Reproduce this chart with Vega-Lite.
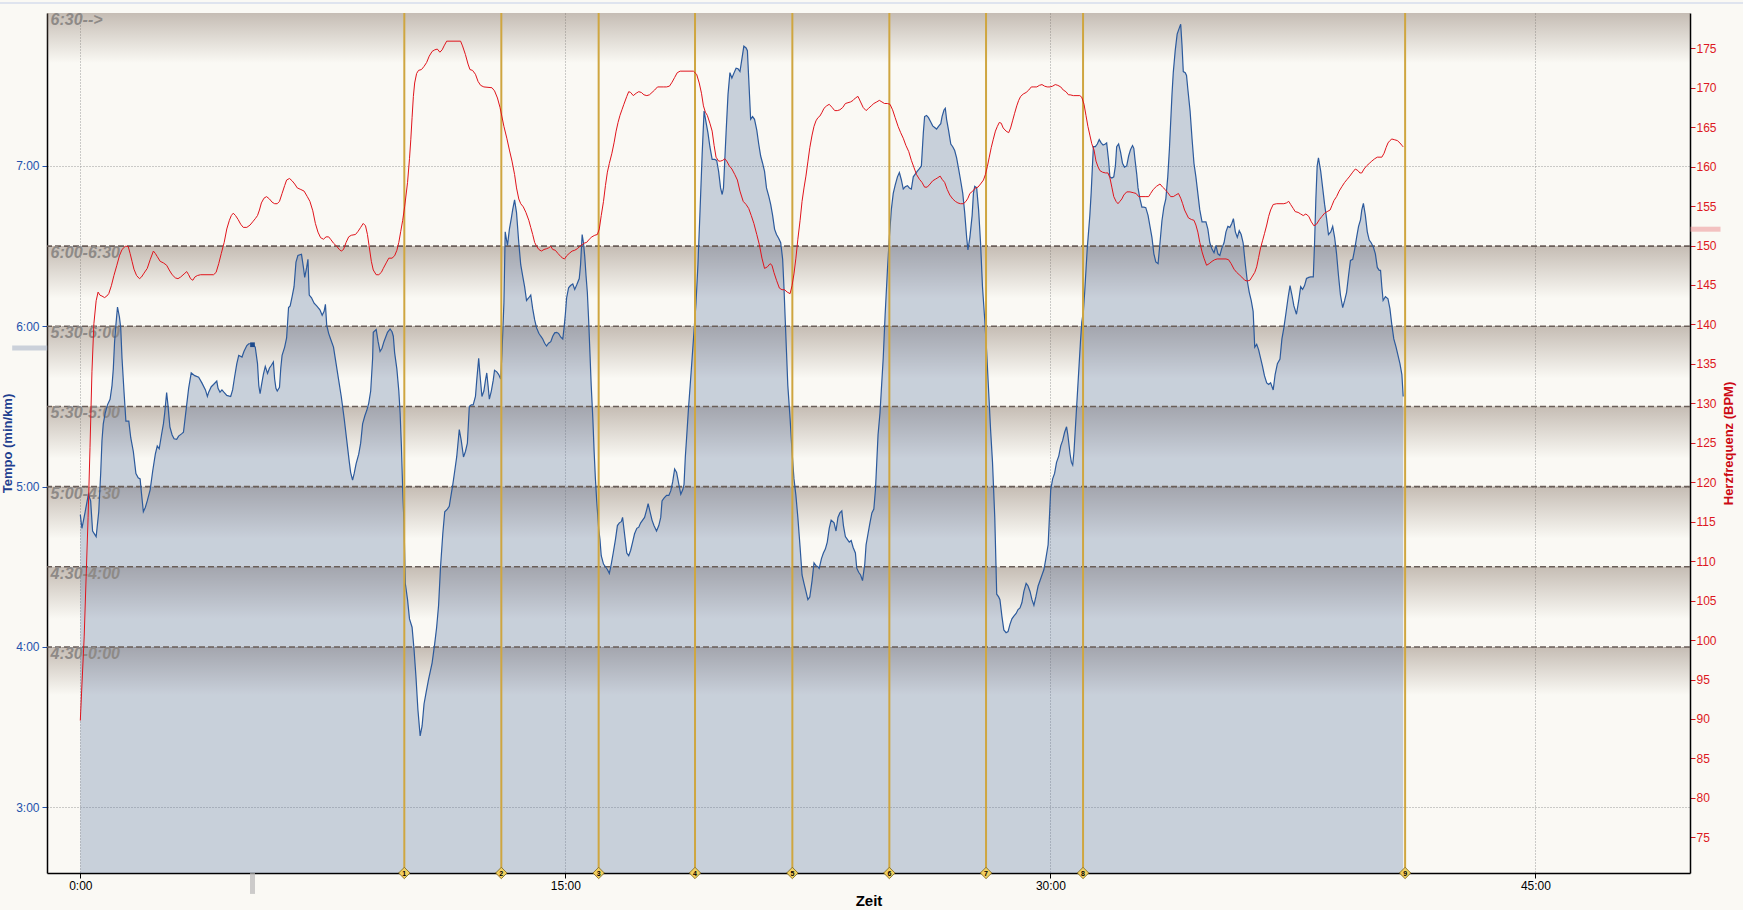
{
  "$schema": "https://vega.github.io/schema/vega-lite/v6.json",
  "width": 1643,
  "height": 860,
  "autosize": "none",
  "padding": {"left": 47, "top": 13, "right": 53, "bottom": 37},
  "background": "#faf9f4",
  "config": {
    "view": {"stroke": null},
    "font": "Liberation Sans",
    "axis": {"labelFont": "Liberation Sans", "titleFont": "Liberation Sans", "labelFontSize": 12, "domainColor": "#000000", "domainWidth": 1.5, "tickSize": 5, "tickWidth": 1, "gridColor": "#9a9a9a", "gridDash": [1, 2], "gridWidth": 1}
  },
  "datasets": {
    "pace": [
      {"t":0.00,"p":4.825},{"t":0.05,"p":4.74},{"t":0.15,"p":4.843},{"t":0.25,"p":4.952},{"t":0.32,"p":4.911},{"t":0.38,"p":4.723},{"t":0.49,"p":4.688},{"t":0.57,"p":4.843},{"t":0.63,"p":5.082},{"t":0.67,"p":5.288},{"t":0.71,"p":5.391},{"t":0.77,"p":5.459},{"t":0.84,"p":5.51},{"t":0.92,"p":5.545},{"t":0.98,"p":5.63},{"t":1.02,"p":5.733},{"t":1.06,"p":5.904},{"t":1.10,"p":6.007},{"t":1.15,"p":6.12},{"t":1.21,"p":6.058},{"t":1.25,"p":5.99},{"t":1.29,"p":5.801},{"t":1.35,"p":5.596},{"t":1.41,"p":5.408},{"t":1.50,"p":5.408},{"t":1.56,"p":5.305},{"t":1.64,"p":5.219},{"t":1.72,"p":5.082},{"t":1.79,"p":5.055},{"t":1.85,"p":5.048},{"t":1.89,"p":4.962},{"t":1.95,"p":4.843},{"t":2.01,"p":4.87},{"t":2.07,"p":4.911},{"t":2.16,"p":4.98},{"t":2.24,"p":5.099},{"t":2.32,"p":5.202},{"t":2.38,"p":5.254},{"t":2.44,"p":5.236},{"t":2.51,"p":5.322},{"t":2.57,"p":5.391},{"t":2.61,"p":5.459},{"t":2.67,"p":5.586},{"t":2.71,"p":5.51},{"t":2.77,"p":5.373},{"t":2.84,"p":5.322},{"t":2.90,"p":5.298},{"t":2.98,"p":5.295},{"t":3.04,"p":5.315},{"t":3.13,"p":5.329},{"t":3.19,"p":5.339},{"t":3.23,"p":5.408},{"t":3.29,"p":5.51},{"t":3.35,"p":5.613},{"t":3.43,"p":5.709},{"t":3.54,"p":5.692},{"t":3.66,"p":5.682},{"t":3.76,"p":5.647},{"t":3.87,"p":5.603},{"t":3.93,"p":5.562},{"t":3.97,"p":5.589},{"t":4.05,"p":5.623},{"t":4.12,"p":5.637},{"t":4.22,"p":5.658},{"t":4.26,"p":5.613},{"t":4.32,"p":5.589},{"t":4.38,"p":5.603},{"t":4.44,"p":5.589},{"t":4.53,"p":5.569},{"t":4.65,"p":5.562},{"t":4.71,"p":5.603},{"t":4.77,"p":5.682},{"t":4.84,"p":5.767},{"t":4.90,"p":5.819},{"t":5.00,"p":5.808},{"t":5.06,"p":5.843},{"t":5.15,"p":5.88},{"t":5.21,"p":5.891},{"t":5.33,"p":5.891},{"t":5.41,"p":5.87},{"t":5.48,"p":5.767},{"t":5.52,"p":5.63},{"t":5.56,"p":5.579},{"t":5.60,"p":5.63},{"t":5.66,"p":5.699},{"t":5.72,"p":5.75},{"t":5.79,"p":5.706},{"t":5.85,"p":5.74},{"t":5.91,"p":5.757},{"t":5.97,"p":5.777},{"t":6.01,"p":5.671},{"t":6.05,"p":5.613},{"t":6.09,"p":5.596},{"t":6.16,"p":5.62},{"t":6.20,"p":5.74},{"t":6.24,"p":5.819},{"t":6.32,"p":5.87},{"t":6.38,"p":5.928},{"t":6.44,"p":6.117},{"t":6.49,"p":6.127},{"t":6.55,"p":6.185},{"t":6.61,"p":6.247},{"t":6.67,"p":6.401},{"t":6.73,"p":6.442},{"t":6.84,"p":6.449},{"t":6.90,"p":6.367},{"t":6.94,"p":6.305},{"t":7.00,"p":6.367},{"t":7.04,"p":6.418},{"t":7.08,"p":6.195},{"t":7.15,"p":6.178},{"t":7.23,"p":6.144},{"t":7.31,"p":6.127},{"t":7.41,"p":6.103},{"t":7.48,"p":6.069},{"t":7.54,"p":6.093},{"t":7.58,"p":6.137},{"t":7.62,"p":6.007},{"t":7.68,"p":5.956},{"t":7.74,"p":5.921},{"t":7.83,"p":5.87},{"t":7.91,"p":5.767},{"t":7.99,"p":5.664},{"t":8.07,"p":5.562},{"t":8.16,"p":5.425},{"t":8.24,"p":5.288},{"t":8.32,"p":5.151},{"t":8.36,"p":5.089},{"t":8.42,"p":5.041},{"t":8.47,"p":5.082},{"t":8.53,"p":5.144},{"t":8.61,"p":5.202},{"t":8.67,"p":5.271},{"t":8.73,"p":5.391},{"t":8.80,"p":5.442},{"t":8.86,"p":5.476},{"t":8.92,"p":5.521},{"t":8.98,"p":5.596},{"t":9.04,"p":5.801},{"t":9.06,"p":5.962},{"t":9.15,"p":5.98},{"t":9.21,"p":5.904},{"t":9.27,"p":5.843},{"t":9.33,"p":5.863},{"t":9.39,"p":5.904},{"t":9.50,"p":5.962},{"t":9.58,"p":5.983},{"t":9.64,"p":5.966},{"t":9.68,"p":5.938},{"t":9.72,"p":5.836},{"t":9.79,"p":5.733},{"t":9.85,"p":5.596},{"t":9.89,"p":5.459},{"t":9.93,"p":5.254},{"t":9.97,"p":4.98},{"t":10.01,"p":4.774},{"t":10.05,"p":4.397},{"t":10.12,"p":4.295},{"t":10.18,"p":4.175},
      {"t":10.26,"p":4.123},{"t":10.32,"p":3.986},{"t":10.38,"p":3.815},{"t":10.44,"p":3.61},{"t":10.51,"p":3.445},{"t":10.57,"p":3.507},{"t":10.63,"p":3.644},{"t":10.69,"p":3.712},{"t":10.77,"p":3.798},{"t":10.88,"p":3.901},{"t":10.96,"p":4.021},{"t":11.02,"p":4.123},{"t":11.08,"p":4.26},{"t":11.14,"p":4.5},{"t":11.21,"p":4.706},{"t":11.27,"p":4.843},{"t":11.35,"p":4.86},{"t":11.41,"p":4.877},{"t":11.45,"p":4.928},{"t":11.52,"p":5.014},{"t":11.58,"p":5.099},{"t":11.64,"p":5.185},{"t":11.72,"p":5.356},{"t":11.78,"p":5.288},{"t":11.85,"p":5.185},{"t":11.91,"p":5.219},{"t":11.97,"p":5.271},{"t":12.03,"p":5.5},{"t":12.09,"p":5.51},{"t":12.15,"p":5.51},{"t":12.22,"p":5.562},{"t":12.26,"p":5.664},{"t":12.32,"p":5.801},{"t":12.36,"p":5.699},{"t":12.42,"p":5.562},{"t":12.48,"p":5.596},{"t":12.53,"p":5.664},{"t":12.57,"p":5.709},{"t":12.61,"p":5.63},{"t":12.65,"p":5.545},{"t":12.71,"p":5.596},{"t":12.77,"p":5.664},{"t":12.81,"p":5.726},{"t":12.88,"p":5.716},{"t":12.94,"p":5.699},{"t":13.00,"p":5.671},{"t":13.04,"p":5.836},{"t":13.10,"p":6.144},{"t":13.14,"p":6.589},{"t":13.21,"p":6.504},{"t":13.27,"p":6.606},{"t":13.33,"p":6.675},{"t":13.37,"p":6.726},{"t":13.43,"p":6.788},{"t":13.49,"p":6.709},{"t":13.56,"p":6.521},{"t":13.62,"p":6.384},{"t":13.68,"p":6.315},{"t":13.74,"p":6.247},{"t":13.80,"p":6.161},{"t":13.87,"p":6.178},{"t":13.93,"p":6.195},{"t":13.99,"p":6.11},{"t":14.05,"p":6.041},{"t":14.11,"p":5.99},{"t":14.18,"p":5.956},{"t":14.24,"p":5.938},{"t":14.30,"p":5.921},{"t":14.36,"p":5.894},{"t":14.42,"p":5.877},{"t":14.48,"p":5.894},{"t":14.55,"p":5.904},{"t":14.61,"p":5.938},{"t":14.67,"p":5.959},{"t":14.73,"p":5.962},{"t":14.79,"p":5.956},{"t":14.86,"p":5.932},{"t":14.92,"p":5.921},{"t":14.96,"p":5.99},{"t":15.00,"p":6.075},{"t":15.04,"p":6.178},{"t":15.10,"p":6.24},{"t":15.16,"p":6.254},{"t":15.23,"p":6.264},{"t":15.29,"p":6.23},{"t":15.35,"p":6.257},{"t":15.43,"p":6.298},{"t":15.47,"p":6.384},{"t":15.52,"p":6.572},{"t":15.56,"p":6.521},{"t":15.60,"p":6.435},{"t":15.64,"p":6.315},{"t":15.68,"p":6.212},{"t":15.72,"p":6.041},{"t":15.76,"p":5.836},{"t":15.80,"p":5.63},{"t":15.85,"p":5.425},{"t":15.89,"p":5.219},{"t":15.93,"p":5.048},{"t":15.97,"p":4.911},{"t":16.03,"p":4.74},{"t":16.07,"p":4.671},{"t":16.11,"p":4.569},{"t":16.18,"p":4.517},{"t":16.24,"p":4.5},{"t":16.30,"p":4.483},{"t":16.36,"p":4.459},{"t":16.42,"p":4.517},{"t":16.48,"p":4.586},{"t":16.55,"p":4.671},{"t":16.61,"p":4.757},{"t":16.67,"p":4.774},{"t":16.73,"p":4.781},{"t":16.77,"p":4.808},{"t":16.83,"p":4.706},{"t":16.90,"p":4.586},{"t":16.96,"p":4.569},{"t":17.02,"p":4.603},{"t":17.08,"p":4.654},{"t":17.14,"p":4.706},{"t":17.21,"p":4.74},{"t":17.27,"p":4.747},{"t":17.33,"p":4.774},{"t":17.39,"p":4.791},{"t":17.45,"p":4.808},{"t":17.52,"p":4.86},{"t":17.56,"p":4.894},{"t":17.62,"p":4.843},{"t":17.68,"p":4.791},{"t":17.74,"p":4.757},{"t":17.82,"p":4.723},{"t":17.89,"p":4.757},{"t":17.95,"p":4.808},{"t":17.99,"p":4.911},{"t":18.05,"p":4.928},{"t":18.13,"p":4.945},{"t":18.20,"p":4.945},{"t":18.26,"p":4.973},{"t":18.32,"p":5.031},{"t":18.38,"p":5.11},{"t":18.44,"p":5.089},{"t":18.51,"p":5.014},{"t":18.57,"p":4.952},{"t":18.63,"p":4.98},{"t":18.67,"p":5.014},{"t":18.71,"p":5.185},{"t":18.75,"p":5.305},{"t":18.81,"p":5.493},{"t":18.86,"p":5.63},{"t":18.92,"p":5.801},{"t":18.98,"p":5.973},{"t":19.04,"p":6.144},{"t":19.10,"p":6.384},{"t":19.16,"p":6.692},{"t":19.23,"p":7.069},{"t":19.29,"p":7.343},{"t":19.35,"p":7.274},{"t":19.41,"p":7.206},{"t":19.47,"p":7.12},{"t":19.54,"p":7.041},{"t":19.62,"p":7.041},{"t":19.68,"p":7.034},{"t":19.74,"p":6.966},{"t":19.80,"p":6.863},{"t":19.85,"p":6.822},{"t":19.89,"p":6.863},{"t":19.93,"p":7.034},{"t":19.97,"p":7.206},{"t":20.03,"p":7.445},{"t":20.09,"p":7.582},{"t":20.15,"p":7.548},{"t":20.22,"p":7.582},{"t":20.28,"p":7.61},{"t":20.34,"p":7.606},{"t":20.40,"p":7.589},
      {"t":20.46,"p":7.668},{"t":20.52,"p":7.747},{"t":20.59,"p":7.736},{"t":20.63,"p":7.719},{"t":20.67,"p":7.548},{"t":20.73,"p":7.291},{"t":20.79,"p":7.308},{"t":20.85,"p":7.291},{"t":20.92,"p":7.223},{"t":20.98,"p":7.137},{"t":21.04,"p":7.062},{"t":21.10,"p":7.017},{"t":21.16,"p":6.966},{"t":21.22,"p":6.863},{"t":21.29,"p":6.812},{"t":21.35,"p":6.76},{"t":21.41,"p":6.692},{"t":21.47,"p":6.606},{"t":21.53,"p":6.572},{"t":21.60,"p":6.548},{"t":21.66,"p":6.521},{"t":21.72,"p":6.418},{"t":21.76,"p":6.247},{"t":21.80,"p":6.041},{"t":21.84,"p":5.836},{"t":21.88,"p":5.63},{"t":21.95,"p":5.425},{"t":22.01,"p":5.219},{"t":22.07,"p":5.048},{"t":22.13,"p":4.945},{"t":22.19,"p":4.808},{"t":22.26,"p":4.62},{"t":22.32,"p":4.449},{"t":22.38,"p":4.397},{"t":22.44,"p":4.346},{"t":22.50,"p":4.295},{"t":22.56,"p":4.312},{"t":22.63,"p":4.414},{"t":22.69,"p":4.524},{"t":22.75,"p":4.507},{"t":22.81,"p":4.5},{"t":22.85,"p":4.49},{"t":22.92,"p":4.551},{"t":22.98,"p":4.586},{"t":23.04,"p":4.61},{"t":23.10,"p":4.654},{"t":23.16,"p":4.74},{"t":23.22,"p":4.791},{"t":23.31,"p":4.774},{"t":23.37,"p":4.723},{"t":23.43,"p":4.808},{"t":23.49,"p":4.836},{"t":23.55,"p":4.849},{"t":23.60,"p":4.757},{"t":23.66,"p":4.688},{"t":23.72,"p":4.671},{"t":23.78,"p":4.654},{"t":23.84,"p":4.664},{"t":23.90,"p":4.62},{"t":23.97,"p":4.586},{"t":24.01,"p":4.493},{"t":24.07,"p":4.466},{"t":24.13,"p":4.449},{"t":24.19,"p":4.414},{"t":24.26,"p":4.517},{"t":24.30,"p":4.637},{"t":24.36,"p":4.706},{"t":24.42,"p":4.774},{"t":24.48,"p":4.836},{"t":24.54,"p":4.86},{"t":24.59,"p":4.98},{"t":24.63,"p":5.151},{"t":24.67,"p":5.322},{"t":24.73,"p":5.459},{"t":24.77,"p":5.596},{"t":24.83,"p":5.801},{"t":24.89,"p":6.075},{"t":24.96,"p":6.349},{"t":25.02,"p":6.555},{"t":25.08,"p":6.726},{"t":25.14,"p":6.829},{"t":25.20,"p":6.88},{"t":25.27,"p":6.932},{"t":25.33,"p":6.959},{"t":25.39,"p":6.914},{"t":25.45,"p":6.856},{"t":25.51,"p":6.87},{"t":25.58,"p":6.877},{"t":25.64,"p":6.863},{"t":25.70,"p":6.856},{"t":25.76,"p":6.932},{"t":25.82,"p":6.949},{"t":25.88,"p":6.966},{"t":25.95,"p":6.983},{"t":26.01,"p":7.0},{"t":26.07,"p":7.206},{"t":26.11,"p":7.308},{"t":26.17,"p":7.315},{"t":26.23,"p":7.301},{"t":26.30,"p":7.274},{"t":26.36,"p":7.25},{"t":26.42,"p":7.24},{"t":26.48,"p":7.23},{"t":26.54,"p":7.247},{"t":26.61,"p":7.264},{"t":26.65,"p":7.308},{"t":26.71,"p":7.349},{"t":26.75,"p":7.36},{"t":26.79,"p":7.291},{"t":26.85,"p":7.223},{"t":26.92,"p":7.137},{"t":26.98,"p":7.12},{"t":27.04,"p":7.096},{"t":27.10,"p":7.051},{"t":27.16,"p":6.983},{"t":27.22,"p":6.914},{"t":27.29,"p":6.829},{"t":27.35,"p":6.709},{"t":27.41,"p":6.555},{"t":27.45,"p":6.476},{"t":27.51,"p":6.555},{"t":27.58,"p":6.692},{"t":27.62,"p":6.829},{"t":27.66,"p":6.873},{"t":27.72,"p":6.863},{"t":27.78,"p":6.726},{"t":27.84,"p":6.521},{"t":27.90,"p":6.247},{"t":27.97,"p":6.041},{"t":28.03,"p":5.836},{"t":28.09,"p":5.596},{"t":28.15,"p":5.356},{"t":28.21,"p":5.151},{"t":28.28,"p":4.808},{"t":28.34,"p":4.329},{"t":28.40,"p":4.312},{"t":28.44,"p":4.295},{"t":28.50,"p":4.192},{"t":28.56,"p":4.106},{"t":28.63,"p":4.089},{"t":28.69,"p":4.096},{"t":28.75,"p":4.141},{"t":28.81,"p":4.175},{"t":28.87,"p":4.192},{"t":28.94,"p":4.209},{"t":29.00,"p":4.233},{"t":29.06,"p":4.243},{"t":29.12,"p":4.277},{"t":29.18,"p":4.346},{"t":29.25,"p":4.397},{"t":29.31,"p":4.38},{"t":29.37,"p":4.346},{"t":29.43,"p":4.295},{"t":29.49,"p":4.26},{"t":29.55,"p":4.312},{"t":29.62,"p":4.38},{"t":29.68,"p":4.414},{"t":29.74,"p":4.449},{"t":29.80,"p":4.483},{"t":29.86,"p":4.551},{"t":29.93,"p":4.637},{"t":29.97,"p":4.808},{"t":30.01,"p":4.98},{"t":30.07,"p":5.048},{"t":30.13,"p":5.082},{"t":30.19,"p":5.151},{"t":30.26,"p":5.192},{"t":30.32,"p":5.254},{"t":30.38,"p":5.288},{"t":30.44,"p":5.339},{"t":30.50,"p":5.373},{"t":30.54,"p":5.322},{"t":30.61,"p":5.202},
      {"t":30.65,"p":5.151},{"t":30.69,"p":5.134},{"t":30.73,"p":5.219},{"t":30.77,"p":5.356},{"t":30.81,"p":5.493},{"t":30.85,"p":5.63},{"t":30.89,"p":5.767},{"t":30.93,"p":5.904},{"t":30.97,"p":6.024},{"t":31.02,"p":6.093},{"t":31.06,"p":6.212},{"t":31.10,"p":6.349},{"t":31.14,"p":6.486},{"t":31.18,"p":6.589},{"t":31.22,"p":6.692},{"t":31.26,"p":6.829},{"t":31.30,"p":7.0},{"t":31.33,"p":7.12},{"t":31.39,"p":7.12},{"t":31.45,"p":7.137},{"t":31.51,"p":7.164},{"t":31.57,"p":7.144},{"t":31.63,"p":7.13},{"t":31.70,"p":7.137},{"t":31.74,"p":7.144},{"t":31.80,"p":7.034},{"t":31.84,"p":6.932},{"t":31.90,"p":6.925},{"t":31.96,"p":6.932},{"t":32.01,"p":7.0},{"t":32.05,"p":7.12},{"t":32.11,"p":7.137},{"t":32.17,"p":7.086},{"t":32.23,"p":7.017},{"t":32.29,"p":6.993},{"t":32.36,"p":7.0},{"t":32.42,"p":7.062},{"t":32.48,"p":7.103},{"t":32.54,"p":7.127},{"t":32.58,"p":7.11},{"t":32.62,"p":7.034},{"t":32.67,"p":6.949},{"t":32.71,"p":6.863},{"t":32.77,"p":6.795},{"t":32.83,"p":6.743},{"t":32.89,"p":6.743},{"t":32.95,"p":6.74},{"t":33.02,"p":6.692},{"t":33.08,"p":6.623},{"t":33.14,"p":6.555},{"t":33.20,"p":6.452},{"t":33.26,"p":6.401},{"t":33.33,"p":6.391},{"t":33.39,"p":6.521},{"t":33.45,"p":6.658},{"t":33.51,"p":6.743},{"t":33.57,"p":6.795},{"t":33.63,"p":6.932},{"t":33.68,"p":7.103},{"t":33.72,"p":7.274},{"t":33.76,"p":7.445},{"t":33.80,"p":7.582},{"t":33.86,"p":7.719},{"t":33.92,"p":7.822},{"t":33.99,"p":7.863},{"t":34.03,"p":7.884},{"t":34.07,"p":7.754},{"t":34.11,"p":7.589},{"t":34.17,"p":7.582},{"t":34.21,"p":7.565},{"t":34.25,"p":7.48},{"t":34.32,"p":7.343},{"t":34.38,"p":7.171},{"t":34.44,"p":7.017},{"t":34.50,"p":6.932},{"t":34.56,"p":6.829},{"t":34.62,"p":6.726},{"t":34.69,"p":6.651},{"t":34.75,"p":6.651},{"t":34.81,"p":6.651},{"t":34.87,"p":6.606},{"t":34.93,"p":6.521},{"t":35.00,"p":6.48},{"t":35.06,"p":6.459},{"t":35.12,"p":6.504},{"t":35.18,"p":6.452},{"t":35.24,"p":6.442},{"t":35.30,"p":6.486},{"t":35.37,"p":6.521},{"t":35.43,"p":6.589},{"t":35.49,"p":6.623},{"t":35.55,"p":6.617},{"t":35.61,"p":6.641},{"t":35.66,"p":6.671},{"t":35.72,"p":6.589},{"t":35.78,"p":6.555},{"t":35.84,"p":6.596},{"t":35.90,"p":6.572},{"t":35.96,"p":6.521},{"t":36.03,"p":6.384},{"t":36.09,"p":6.281},{"t":36.15,"p":6.212},{"t":36.21,"p":6.161},{"t":36.27,"p":6.093},{"t":36.32,"p":5.87},{"t":36.38,"p":5.887},{"t":36.44,"p":5.853},{"t":36.50,"p":5.801},{"t":36.56,"p":5.75},{"t":36.62,"p":5.692},{"t":36.69,"p":5.647},{"t":36.75,"p":5.637},{"t":36.81,"p":5.647},{"t":36.89,"p":5.603},{"t":36.95,"p":5.699},{"t":37.02,"p":5.767},{"t":37.10,"p":5.795},{"t":37.16,"p":5.921},{"t":37.22,"p":5.99},{"t":37.28,"p":6.075},{"t":37.35,"p":6.178},{"t":37.41,"p":6.254},{"t":37.47,"p":6.195},{"t":37.53,"p":6.127},{"t":37.61,"p":6.075},{"t":37.68,"p":6.161},{"t":37.74,"p":6.247},{"t":37.80,"p":6.23},{"t":37.86,"p":6.254},{"t":37.92,"p":6.298},{"t":37.99,"p":6.305},{"t":38.05,"p":6.308},{"t":38.13,"p":6.308},{"t":38.17,"p":6.521},{"t":38.21,"p":6.795},{"t":38.25,"p":7.0},{"t":38.29,"p":7.051},{"t":38.36,"p":6.966},{"t":38.42,"p":6.863},{"t":38.48,"p":6.76},{"t":38.54,"p":6.675},{"t":38.60,"p":6.572},{"t":38.67,"p":6.589},{"t":38.73,"p":6.623},{"t":38.79,"p":6.555},{"t":38.85,"p":6.452},{"t":38.91,"p":6.315},{"t":38.97,"p":6.195},{"t":39.04,"p":6.117},{"t":39.10,"p":6.161},{"t":39.16,"p":6.212},{"t":39.22,"p":6.315},{"t":39.28,"p":6.411},{"t":39.35,"p":6.418},{"t":39.41,"p":6.48},{"t":39.47,"p":6.555},{"t":39.53,"p":6.623},{"t":39.59,"p":6.664},{"t":39.63,"p":6.726},{"t":39.68,"p":6.767},{"t":39.74,"p":6.692},{"t":39.80,"p":6.589},{"t":39.86,"p":6.538},{"t":39.92,"p":6.521},{"t":39.99,"p":6.493},{"t":40.05,"p":6.452},{"t":40.11,"p":6.367},{"t":40.17,"p":6.349},{"t":40.21,"p":6.349},{"t":40.25,"p":6.247},{"t":40.29,"p":6.161},{"t":40.36,"p":6.185},{"t":40.44,"p":6.171},{"t":40.50,"p":6.11},{"t":40.56,"p":6.007},{"t":40.62,"p":5.921},{"t":40.69,"p":5.87},{"t":40.75,"p":5.819},{"t":40.81,"p":5.767},{"t":40.87,"p":5.699},{"t":40.91,"p":5.562}
    ],
    "hr": [
      {"t":0.00,"h":89.8},{"t":0.05,"h":94.3},{"t":0.12,"h":100.4},{"t":0.18,"h":108.0},{"t":0.24,"h":115.5},{"t":0.30,"h":124.4},{"t":0.36,"h":134.0},{"t":0.42,"h":140.1},{"t":0.49,"h":143.0},{"t":0.55,"h":144.1},{"t":0.61,"h":143.7},{"t":0.67,"h":143.6},{"t":0.75,"h":143.4},{"t":0.82,"h":143.6},{"t":0.88,"h":143.9},{"t":0.96,"h":144.9},{"t":1.04,"h":146.2},{"t":1.13,"h":147.5},{"t":1.21,"h":148.7},{"t":1.29,"h":149.5},{"t":1.39,"h":149.9},{"t":1.48,"h":149.9},{"t":1.54,"h":149.0},{"t":1.60,"h":148.0},{"t":1.66,"h":147.0},{"t":1.74,"h":146.2},{"t":1.83,"h":145.8},{"t":1.89,"h":146.0},{"t":1.97,"h":146.5},{"t":2.07,"h":147.1},{"t":2.16,"h":148.2},{"t":2.26,"h":149.3},{"t":2.32,"h":149.0},{"t":2.38,"h":148.6},{"t":2.47,"h":148.0},{"t":2.57,"h":147.8},{"t":2.67,"h":147.5},{"t":2.75,"h":146.9},{"t":2.84,"h":146.3},{"t":2.94,"h":145.9},{"t":3.02,"h":145.8},{"t":3.10,"h":146.0},{"t":3.21,"h":146.4},{"t":3.29,"h":146.7},{"t":3.35,"h":146.3},{"t":3.41,"h":145.8},{"t":3.48,"h":145.6},{"t":3.54,"h":146.0},{"t":3.62,"h":146.2},{"t":3.72,"h":146.3},{"t":4.12,"h":146.3},{"t":4.20,"h":146.6},{"t":4.28,"h":147.7},{"t":4.36,"h":149.0},{"t":4.45,"h":150.4},{"t":4.53,"h":152.1},{"t":4.61,"h":153.2},{"t":4.67,"h":153.8},{"t":4.73,"h":154.1},{"t":4.80,"h":153.8},{"t":4.88,"h":153.3},{"t":4.96,"h":152.7},{"t":5.04,"h":152.3},{"t":5.15,"h":152.3},{"t":5.25,"h":152.6},{"t":5.33,"h":153.0},{"t":5.41,"h":153.4},{"t":5.48,"h":153.8},{"t":5.54,"h":154.5},{"t":5.60,"h":155.4},{"t":5.68,"h":156.0},{"t":5.76,"h":156.2},{"t":5.85,"h":155.9},{"t":5.93,"h":155.5},{"t":6.01,"h":155.3},{"t":6.09,"h":155.3},{"t":6.16,"h":155.6},{"t":6.24,"h":156.6},{"t":6.32,"h":157.6},{"t":6.38,"h":158.3},{"t":6.47,"h":158.5},{"t":6.55,"h":158.2},{"t":6.63,"h":157.8},{"t":6.71,"h":157.3},{"t":6.82,"h":157.1},{"t":6.92,"h":156.9},{"t":7.02,"h":156.2},{"t":7.10,"h":155.6},{"t":7.19,"h":154.4},{"t":7.27,"h":152.8},{"t":7.35,"h":151.7},{"t":7.43,"h":151.0},{"t":7.52,"h":150.8},{"t":7.60,"h":151.1},{"t":7.68,"h":151.1},{"t":7.74,"h":150.8},{"t":7.83,"h":150.3},{"t":7.93,"h":149.9},{"t":8.01,"h":149.5},{"t":8.07,"h":149.3},{"t":8.14,"h":149.5},{"t":8.22,"h":150.4},{"t":8.30,"h":151.1},{"t":8.38,"h":151.3},{"t":8.51,"h":151.4},{"t":8.59,"h":151.8},{"t":8.67,"h":152.3},{"t":8.75,"h":152.8},{"t":8.82,"h":152.5},{"t":8.88,"h":151.4},{"t":8.94,"h":149.7},{"t":9.00,"h":148.0},{"t":9.06,"h":146.9},{"t":9.15,"h":146.3},{"t":9.23,"h":146.3},{"t":9.31,"h":146.6},{"t":9.37,"h":147.1},{"t":9.46,"h":147.8},{"t":9.54,"h":148.4},{"t":9.64,"h":148.4},{"t":9.72,"h":148.7},{"t":9.79,"h":149.4},{"t":9.85,"h":150.4},{"t":9.91,"h":151.8},{"t":9.97,"h":153.2},{"t":10.03,"h":154.9},{"t":10.12,"h":158.0},{"t":10.18,"h":161.0},{"t":10.22,"h":163.4},{"t":10.26,"h":166.2},{"t":10.30,"h":168.9},{"t":10.34,"h":170.6},{"t":10.40,"h":171.8},{"t":10.46,"h":172.2},{"t":10.55,"h":172.3},{"t":10.63,"h":172.7},{"t":10.71,"h":173.2},{"t":10.79,"h":174.0},{"t":10.88,"h":174.6},{"t":10.96,"h":174.8},{"t":11.04,"h":174.9},{"t":11.12,"h":174.5},{"t":11.19,"h":174.8},{"t":11.25,"h":175.3},{"t":11.33,"h":175.9},{"t":11.76,"h":175.9},{"t":11.82,"h":175.3},{"t":11.91,"h":174.2},{"t":11.99,"h":173.0},{"t":12.05,"h":172.3},{"t":12.13,"h":172.2},{"t":12.22,"h":171.7},{"t":12.30,"h":170.8},{"t":12.38,"h":170.3},{"t":12.48,"h":170.1},{"t":12.73,"h":170.0},{"t":12.81,"h":169.6},{"t":12.90,"h":168.7},{"t":12.98,"h":167.5},{"t":13.04,"h":166.3},{"t":13.10,"h":165.1},{"t":13.19,"h":163.6},{"t":13.27,"h":162.1},{"t":13.35,"h":160.7},{"t":13.43,"h":159.0},{"t":13.49,"h":157.3},{"t":13.56,"h":155.9},{"t":13.62,"h":155.3},{"t":13.70,"h":154.9},{"t":13.78,"h":154.2},{"t":13.87,"h":153.2},{"t":13.93,"h":152.3},{"t":13.99,"h":151.4},{"t":14.05,"h":150.4},{"t":14.11,"h":149.9},{"t":14.18,"h":149.5},{"t":14.26,"h":149.3},{"t":14.34,"h":149.5},{"t":14.42,"h":149.6},{"t":14.48,"h":149.7},{"t":14.55,"h":149.9},{"t":14.61,"h":149.5},{"t":14.69,"h":149.4},{"t":14.77,"h":149.0},{"t":14.86,"h":148.6},{"t":14.92,"h":148.4},{"t":14.98,"h":148.3},{"t":15.04,"h":148.7},{"t":15.12,"h":149.0},{"t":15.21,"h":149.3},{"t":15.29,"h":149.4},{"t":15.37,"h":149.6},{"t":15.45,"h":149.9},{"t":15.52,"h":150.1},{"t":15.58,"h":150.3},{"t":15.66,"h":150.4},{"t":15.74,"h":150.8},{"t":15.82,"h":151.1},{"t":15.91,"h":151.3},{"t":15.99,"h":151.4},{"t":16.05,"h":152.1},{"t":16.11,"h":153.8},{"t":16.18,"h":155.6},{"t":16.24,"h":157.6},{"t":16.30,"h":159.3},{"t":16.36,"h":160.4},{"t":16.44,"h":161.7},{"t":16.51,"h":163.1},{"t":16.57,"h":164.5},{"t":16.63,"h":165.6},{"t":16.69,"h":166.5},{"t":16.75,"h":167.2},{"t":16.81,"h":167.9},{"t":16.90,"h":168.9},{"t":16.96,"h":169.5},{"t":17.02,"h":169.4},{"t":17.10,"h":169.0},{"t":17.19,"h":169.3},{"t":17.27,"h":169.5},{"t":17.35,"h":169.4},{"t":17.43,"h":169.1},{"t":17.52,"h":169.0},{"t":17.60,"h":169.1},{"t":17.68,"h":169.4},{"t":17.76,"h":169.7},{"t":17.85,"h":170.1},{"t":18.03,"h":170.1},{"t":18.13,"h":170.1},{"t":18.22,"h":170.2},{"t":18.30,"h":170.7},{"t":18.38,"h":171.3},{"t":18.46,"h":171.9},{"t":18.55,"h":172.1},{"t":18.96,"h":172.1},{"t":19.06,"h":171.7},{"t":19.14,"h":170.6},{"t":19.21,"h":169.3},{"t":19.27,"h":167.7},{"t":19.33,"h":166.9},{"t":19.39,"h":166.5},{"t":19.47,"h":165.5},{"t":19.54,"h":164.5},{"t":19.60,"h":162.7},{"t":19.66,"h":161.2},{"t":19.74,"h":160.7},{"t":19.80,"h":160.7},{"t":19.87,"h":160.8},{"t":19.93,"h":161.0},{"t":19.99,"h":160.7},{"t":20.07,"h":160.1},{"t":20.15,"h":159.7},{"t":20.24,"h":159.0},{"t":20.32,"h":158.3},{"t":20.40,"h":156.9},
      {"t":20.50,"h":155.6},{"t":20.59,"h":155.2},{"t":20.67,"h":154.7},{"t":20.75,"h":153.8},{"t":20.83,"h":152.8},{"t":20.92,"h":151.4},{"t":21.00,"h":150.1},{"t":21.08,"h":148.4},{"t":21.16,"h":147.1},{"t":21.25,"h":147.3},{"t":21.33,"h":147.7},{"t":21.39,"h":147.5},{"t":21.45,"h":146.6},{"t":21.53,"h":145.6},{"t":21.62,"h":144.6},{"t":21.70,"h":144.4},{"t":21.78,"h":144.4},{"t":21.86,"h":144.1},{"t":21.95,"h":143.9},{"t":22.01,"h":144.9},{"t":22.07,"h":146.4},{"t":22.13,"h":148.4},{"t":22.19,"h":150.8},{"t":22.26,"h":153.2},{"t":22.32,"h":155.6},{"t":22.38,"h":157.3},{"t":22.44,"h":158.8},{"t":22.50,"h":160.6},{"t":22.56,"h":162.4},{"t":22.63,"h":164.0},{"t":22.69,"h":165.1},{"t":22.75,"h":165.8},{"t":22.81,"h":166.2},{"t":22.87,"h":166.4},{"t":22.94,"h":166.9},{"t":23.00,"h":167.4},{"t":23.08,"h":167.7},{"t":23.16,"h":167.9},{"t":23.25,"h":167.5},{"t":23.33,"h":167.1},{"t":23.41,"h":167.1},{"t":23.49,"h":167.2},{"t":23.58,"h":167.5},{"t":23.66,"h":168.0},{"t":23.74,"h":168.1},{"t":23.82,"h":168.2},{"t":23.90,"h":168.4},{"t":23.97,"h":168.7},{"t":24.05,"h":168.9},{"t":24.13,"h":168.2},{"t":24.21,"h":167.5},{"t":24.30,"h":167.1},{"t":24.38,"h":167.4},{"t":24.46,"h":167.7},{"t":24.54,"h":168.0},{"t":24.63,"h":168.2},{"t":24.71,"h":168.4},{"t":24.79,"h":168.2},{"t":24.87,"h":168.0},{"t":24.96,"h":168.0},{"t":25.04,"h":167.9},{"t":25.12,"h":167.2},{"t":25.20,"h":166.2},{"t":25.29,"h":165.1},{"t":25.37,"h":164.3},{"t":25.45,"h":163.6},{"t":25.53,"h":162.7},{"t":25.62,"h":161.9},{"t":25.70,"h":160.8},{"t":25.78,"h":159.9},{"t":25.86,"h":159.0},{"t":25.95,"h":158.4},{"t":26.03,"h":158.0},{"t":26.11,"h":157.4},{"t":26.19,"h":157.4},{"t":26.28,"h":157.8},{"t":26.36,"h":158.2},{"t":26.44,"h":158.4},{"t":26.52,"h":158.6},{"t":26.59,"h":158.8},{"t":26.65,"h":158.4},{"t":26.73,"h":158.0},{"t":26.81,"h":157.1},{"t":26.89,"h":156.4},{"t":26.98,"h":155.9},{"t":27.06,"h":155.6},{"t":27.14,"h":155.4},{"t":27.22,"h":155.3},{"t":27.31,"h":155.3},{"t":27.39,"h":155.6},{"t":27.45,"h":156.0},{"t":27.51,"h":156.6},{"t":27.60,"h":156.9},{"t":27.68,"h":157.3},{"t":27.76,"h":157.4},{"t":27.84,"h":157.8},{"t":27.93,"h":158.3},{"t":27.99,"h":159.0},{"t":28.05,"h":160.0},{"t":28.11,"h":161.2},{"t":28.17,"h":162.4},{"t":28.23,"h":163.4},{"t":28.30,"h":164.5},{"t":28.36,"h":165.1},{"t":28.42,"h":165.6},{"t":28.48,"h":165.5},{"t":28.54,"h":164.9},{"t":28.63,"h":164.5},{"t":28.71,"h":164.3},{"t":28.77,"h":164.9},{"t":28.83,"h":165.8},{"t":28.89,"h":166.7},{"t":28.96,"h":167.7},{"t":29.02,"h":168.4},{"t":29.08,"h":168.9},{"t":29.16,"h":169.2},{"t":29.25,"h":169.4},{"t":29.33,"h":169.7},{"t":29.41,"h":170.1},{"t":29.49,"h":170.1},{"t":29.58,"h":170.1},{"t":29.66,"h":170.3},{"t":29.74,"h":170.4},{"t":29.82,"h":170.2},{"t":29.90,"h":170.1},{"t":29.99,"h":170.1},{"t":30.07,"h":170.2},{"t":30.15,"h":170.4},{"t":30.23,"h":170.3},{"t":30.32,"h":170.1},{"t":30.40,"h":169.7},{"t":30.48,"h":169.5},{"t":30.56,"h":169.1},{"t":30.61,"h":169.1},
      {"t":30.71,"h":169.0},{"t":30.91,"h":169.0},{"t":30.97,"h":168.8},{"t":31.04,"h":167.9},{"t":31.10,"h":166.5},{"t":31.16,"h":165.1},{"t":31.22,"h":164.0},{"t":31.28,"h":162.9},{"t":31.35,"h":162.1},{"t":31.41,"h":160.7},{"t":31.47,"h":160.0},{"t":31.53,"h":159.5},{"t":31.61,"h":159.3},{"t":31.70,"h":159.2},{"t":31.78,"h":159.2},{"t":31.84,"h":158.6},{"t":31.90,"h":157.4},{"t":31.96,"h":156.2},{"t":32.03,"h":155.6},{"t":32.09,"h":155.3},{"t":32.15,"h":155.6},{"t":32.21,"h":155.9},{"t":32.27,"h":156.4},{"t":32.36,"h":156.8},{"t":32.46,"h":156.8},{"t":32.56,"h":156.7},{"t":32.65,"h":156.6},{"t":32.73,"h":156.2},{"t":32.93,"h":156.2},{"t":33.04,"h":156.2},{"t":33.10,"h":156.6},{"t":33.18,"h":157.1},{"t":33.28,"h":157.5},{"t":33.39,"h":157.8},{"t":33.47,"h":157.4},{"t":33.55,"h":157.1},{"t":33.63,"h":156.7},{"t":33.72,"h":156.2},{"t":33.80,"h":156.2},{"t":33.88,"h":156.4},{"t":33.96,"h":156.6},{"t":34.03,"h":156.0},{"t":34.09,"h":155.3},{"t":34.15,"h":154.5},{"t":34.21,"h":154.0},{"t":34.27,"h":153.5},{"t":34.36,"h":153.3},{"t":34.44,"h":153.2},{"t":34.50,"h":152.6},{"t":34.56,"h":151.7},{"t":34.62,"h":150.4},{"t":34.69,"h":149.2},{"t":34.75,"h":148.4},{"t":34.83,"h":147.5},{"t":34.91,"h":147.7},{"t":35.00,"h":148.0},{"t":35.08,"h":148.2},{"t":35.16,"h":148.3},{"t":35.43,"h":148.3},{"t":35.51,"h":148.2},{"t":35.59,"h":147.7},{"t":35.68,"h":147.0},{"t":35.76,"h":146.6},{"t":35.84,"h":146.3},{"t":35.92,"h":146.0},{"t":36.01,"h":145.6},{"t":36.09,"h":145.5},{"t":36.17,"h":145.6},{"t":36.23,"h":146.0},{"t":36.32,"h":146.6},{"t":36.38,"h":147.3},{"t":36.44,"h":148.5},{"t":36.50,"h":149.7},{"t":36.56,"h":150.6},{"t":36.62,"h":151.5},{"t":36.69,"h":152.6},{"t":36.75,"h":153.7},{"t":36.81,"h":154.5},{"t":36.89,"h":155.2},{"t":37.00,"h":155.3},{"t":37.22,"h":155.3},{"t":37.30,"h":155.4},{"t":37.37,"h":155.6},{"t":37.43,"h":155.2},{"t":37.51,"h":154.7},{"t":37.57,"h":154.3},{"t":37.66,"h":154.2},{"t":37.74,"h":154.0},{"t":37.82,"h":153.8},{"t":37.90,"h":154.0},{"t":37.99,"h":153.7},{"t":38.07,"h":153.0},{"t":38.15,"h":152.5},{"t":38.23,"h":152.7},{"t":38.32,"h":153.3},{"t":38.40,"h":153.7},{"t":38.48,"h":154.1},{"t":38.56,"h":154.3},{"t":38.65,"h":154.5},{"t":38.71,"h":155.1},{"t":38.77,"h":155.7},{"t":38.85,"h":156.2},{"t":38.93,"h":156.9},{"t":39.02,"h":157.5},{"t":39.10,"h":158.0},{"t":39.18,"h":158.4},{"t":39.26,"h":158.8},{"t":39.35,"h":159.3},{"t":39.43,"h":159.7},{"t":39.51,"h":159.5},{"t":39.57,"h":159.2},{"t":39.63,"h":159.2},{"t":39.70,"h":159.7},{"t":39.78,"h":160.1},{"t":39.86,"h":160.4},{"t":39.94,"h":160.7},{"t":40.03,"h":161.0},{"t":40.11,"h":161.2},{"t":40.25,"h":161.2},{"t":40.32,"h":161.7},{"t":40.38,"h":162.4},{"t":40.44,"h":163.0},{"t":40.50,"h":163.3},{"t":40.56,"h":163.5},{"t":40.65,"h":163.4},{"t":40.73,"h":163.3},{"t":40.81,"h":163.0},{"t":40.87,"h":162.7},{"t":40.91,"h":162.5}
    ],
    "zones": [
      {"label":"6:30-->","from":6.5,"to":7.954,"kind":"top"},
      {"label":"6:00-6:30","from":6.0,"to":6.5,"kind":"mid"},
      {"label":"5:30-6:00","from":5.5,"to":6.0,"kind":"mid"},
      {"label":"5:30-5:00","from":5.0,"to":5.5,"kind":"mid"},
      {"label":"5:00-4:30","from":4.5,"to":5.0,"kind":"mid"},
      {"label":"4:30-4:00","from":4.0,"to":4.5,"kind":"mid"},
      {"label":"4:30-0:00","from":0.0,"to":4.0,"kind":"bottom"}
    ],
    "laps": [
      {"lap":1,"t":10.02},{"lap":2,"t":13.02},{"lap":3,"t":16.03},{"lap":4,"t":19.01},{"lap":5,"t":22.02},{"lap":6,"t":25.02},{"lap":7,"t":28.01},{"lap":8,"t":31.01},{"lap":9,"t":40.97}
    ],
    "summary": [
      {"avgPace":5.865,"avgHr":152.07,"cursor":5.325,"cursorPace":5.885}
    ]
  },
  "layer": [
    {
      "data": {"name": "pace"},
      "mark": {"type": "area", "clip": true, "color": "#57709e", "opacity": 0.0},
      "encoding": {
        "x": {"field": "t", "type": "quantitative", "scale": {"domain": [-1.03, 49.78], "nice": false, "zero": false},
          "axis": {"values": [0, 15, 30, 45], "labelExpr": "datum.value + ':00'", "title": "Zeit", "titleFontSize": 15, "titleFontWeight": "bold", "titleColor": "#000000", "titlePadding": 2, "labelColor": "#000000", "tickColor": "#000000", "labelPadding": 2, "grid": true, "labelFlush": false}},
        "y": {"field": "p", "type": "quantitative", "scale": {"domain": [2.59, 7.954], "nice": false, "zero": false},
          "axis": {"orient": "left", "values": [3, 4, 5, 6, 7], "labelExpr": "datum.value + ':00'", "title": "Tempo (min/km)", "titleFontSize": 13, "titleFontWeight": "bold", "titleColor": "#1f3f8f", "titlePadding": 1, "labelColor": "#2452ad", "tickColor": "#2452ad", "labelPadding": 3, "grid": true}}
      }
    },
    {
      "data": {"name": "summary"},
      "mark": {"type": "rule", "color": "#dfe4ee", "strokeWidth": 2, "clip": false},
      "encoding": {
        "x": {"datum": -2.49, "type": "quantitative", "scale": {"domain": [-1.03, 49.78], "nice": false, "zero": false}},
        "x2": {"datum": 51.43},
        "y": {"datum": 8.016, "type": "quantitative", "scale": {"domain": [2.59, 7.954], "nice": false, "zero": false}, "axis": null}
      }
    },
    {
      "data": {"name": "zones"},
      "transform": [{"filter": "datum.kind === 'top'"}],
      "mark": {"type": "rect", "clip": true, "color": {"gradient": "linear", "x1": 0, "y1": 0, "x2": 0, "y2": 1, "stops": [{"offset": 0, "color": "rgba(118,98,84,0.40)"}, {"offset": 0.215, "color": "rgba(118,98,84,0)"}]}},
      "encoding": {
        "x": {"value": 0}, "x2": {"value": "width"},
        "y": {"field": "to", "type": "quantitative", "scale": {"domain": [2.59, 7.954], "nice": false, "zero": false}, "axis": null},
        "y2": {"field": "from"}
      }
    },
    {
      "data": {"name": "zones"},
      "transform": [{"filter": "datum.kind === 'mid'"}],
      "mark": {"type": "rect", "clip": true, "color": {"gradient": "linear", "x1": 0, "y1": 0, "x2": 0, "y2": 1, "stops": [{"offset": 0, "color": "rgba(118,98,84,0.40)"}, {"offset": 0.65, "color": "rgba(118,98,84,0)"}]}},
      "encoding": {
        "x": {"value": 0}, "x2": {"value": "width"},
        "y": {"field": "to", "type": "quantitative", "scale": {"domain": [2.59, 7.954], "nice": false, "zero": false}, "axis": null},
        "y2": {"field": "from"}
      }
    },
    {
      "data": {"name": "zones"},
      "transform": [{"filter": "datum.kind === 'bottom'"}],
      "mark": {"type": "rect", "clip": true, "color": {"gradient": "linear", "x1": 0, "y1": 0, "x2": 0, "y2": 1, "stops": [{"offset": 0, "color": "rgba(118,98,84,0.40)"}, {"offset": 0.075, "color": "rgba(118,98,84,0)"}]}},
      "encoding": {
        "x": {"value": 0}, "x2": {"value": "width"},
        "y": {"field": "to", "type": "quantitative", "scale": {"domain": [2.59, 7.954], "nice": false, "zero": false}, "axis": null},
        "y2": {"field": "from"}
      }
    },
    {
      "data": {"name": "pace"},
      "mark": {"type": "area", "clip": true, "color": "#57709e", "opacity": 0.3},
      "encoding": {
        "x": {"field": "t", "type": "quantitative", "scale": {"domain": [-1.03, 49.78], "nice": false, "zero": false}},
        "y": {"field": "p", "type": "quantitative", "scale": {"domain": [2.59, 7.954], "nice": false, "zero": false}, "axis": null}
      }
    },
    {
      "data": {"name": "zones"},
      "transform": [{"filter": "datum.kind !== 'top'"}],
      "mark": {"type": "rule", "color": "#6b5f59", "strokeWidth": 1.6, "strokeDash": [6, 3]},
      "encoding": {
        "y": {"field": "to", "type": "quantitative", "scale": {"domain": [2.59, 7.954], "nice": false, "zero": false}, "axis": null}
      }
    },
    {
      "data": {"name": "zones"},
      "mark": {"type": "text", "align": "left", "baseline": "top", "dy": -1, "font": "Liberation Sans", "fontSize": 16, "fontStyle": "italic", "fontWeight": "bold", "color": "#8e8a87"},
      "encoding": {
        "x": {"datum": -0.92, "type": "quantitative", "scale": {"domain": [-1.03, 49.78], "nice": false, "zero": false}},
        "y": {"field": "to", "type": "quantitative", "scale": {"domain": [2.59, 7.954], "nice": false, "zero": false}, "axis": null},
        "text": {"field": "label"}
      }
    },
    {
      "data": {"name": "pace"},
      "mark": {"type": "line", "clip": true, "color": "#2c5a9c", "strokeWidth": 1.2},
      "encoding": {
        "x": {"field": "t", "type": "quantitative", "scale": {"domain": [-1.03, 49.78], "nice": false, "zero": false}},
        "y": {"field": "p", "type": "quantitative", "scale": {"domain": [2.59, 7.954], "nice": false, "zero": false}, "axis": null}
      }
    },
    {
      "data": {"name": "summary"},
      "mark": {"type": "point", "shape": "square", "filled": true, "size": 22, "color": "#1d4a8c", "opacity": 1},
      "encoding": {
        "x": {"field": "cursor", "type": "quantitative", "scale": {"domain": [-1.03, 49.78], "nice": false, "zero": false}},
        "y": {"field": "cursorPace", "type": "quantitative", "scale": {"domain": [2.59, 7.954], "nice": false, "zero": false}, "axis": null}
      }
    },
    {
      "data": {"name": "laps"},
      "mark": {"type": "rule", "color": "#cfa640", "strokeWidth": 2},
      "encoding": {
        "x": {"field": "t", "type": "quantitative", "scale": {"domain": [-1.03, 49.78], "nice": false, "zero": false}}
      }
    },
    {
      "data": {"name": "hr"},
      "mark": {"type": "line", "clip": true, "color": "#e0141c", "strokeWidth": 1},
      "encoding": {
        "x": {"field": "t", "type": "quantitative", "scale": {"domain": [-1.03, 49.78], "nice": false, "zero": false}},
        "y": {"field": "h", "type": "quantitative", "scale": {"domain": [70.48, 179.47], "nice": false, "zero": false},
          "axis": {"orient": "right", "values": [75, 80, 85, 90, 95, 100, 105, 110, 115, 120, 125, 130, 135, 140, 145, 150, 155, 160, 165, 170, 175], "title": "Herzfrequenz (BPM)", "titleAngle": 270, "titleFontSize": 13, "titleFontWeight": "bold", "titleColor": "#cc0a14", "titlePadding": 19, "labelColor": "#dd1822", "tickColor": "#dd1822", "labelPadding": 1, "grid": false}}
      }
    },
    {
      "data": {"name": "laps"},
      "mark": {"type": "point", "shape": "diamond", "filled": true, "size": 130, "fill": "#f1cf5e", "stroke": "#7a6420", "strokeWidth": 0.8, "opacity": 1},
      "encoding": {
        "x": {"field": "t", "type": "quantitative", "scale": {"domain": [-1.03, 49.78], "nice": false, "zero": false}},
        "y": {"datum": 2.59, "type": "quantitative", "scale": {"domain": [2.59, 7.954], "nice": false, "zero": false}, "axis": null}
      }
    },
    {
      "data": {"name": "laps"},
      "mark": {"type": "text", "align": "center", "baseline": "middle", "fontSize": 7, "fontWeight": "bold", "color": "#000000", "dy": 0.5},
      "encoding": {
        "x": {"field": "t", "type": "quantitative", "scale": {"domain": [-1.03, 49.78], "nice": false, "zero": false}},
        "y": {"datum": 2.59, "type": "quantitative", "scale": {"domain": [2.59, 7.954], "nice": false, "zero": false}, "axis": null},
        "text": {"field": "lap"}
      }
    },
    {
      "data": {"name": "summary"},
      "mark": {"type": "tick", "orient": "horizontal", "size": 35, "thickness": 5, "color": "#b7c0cf"},
      "encoding": {
        "x": {"datum": -1.565, "type": "quantitative", "scale": {"domain": [-1.03, 49.78], "nice": false, "zero": false}},
        "y": {"field": "avgPace", "type": "quantitative", "scale": {"domain": [2.59, 7.954], "nice": false, "zero": false}, "axis": null}
      }
    },
    {
      "data": {"name": "summary"},
      "mark": {"type": "tick", "orient": "vertical", "size": 21, "thickness": 5, "color": "#b8b8b8"},
      "encoding": {
        "x": {"field": "cursor", "type": "quantitative", "scale": {"domain": [-1.03, 49.78], "nice": false, "zero": false}},
        "y": {"datum": 2.525, "type": "quantitative", "scale": {"domain": [2.59, 7.954], "nice": false, "zero": false}, "axis": null}
      }
    },
    {
      "data": {"name": "summary"},
      "mark": {"type": "tick", "orient": "horizontal", "size": 30, "thickness": 5, "color": "#efaaaa"},
      "encoding": {
        "x": {"datum": 50.26, "type": "quantitative", "scale": {"domain": [-1.03, 49.78], "nice": false, "zero": false}},
        "y": {"field": "avgHr", "type": "quantitative", "scale": {"domain": [70.48, 179.47], "nice": false, "zero": false}, "axis": null}
      }
    }
  ],
  "resolve": {"scale": {"y": "independent"}, "axis": {"y": "independent"}}
}
